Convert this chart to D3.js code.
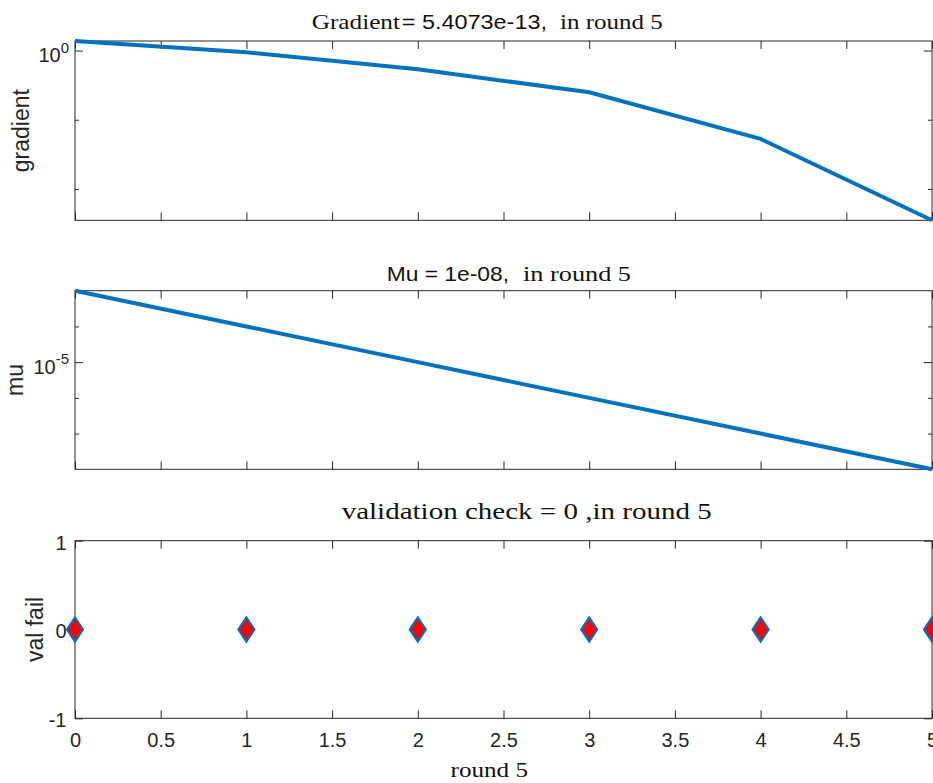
<!DOCTYPE html>
<html>
<head>
<meta charset="utf-8">
<script src="https://cdn.jsdelivr.net/npm/d3@7"></script>
<style>
  html, body { margin: 0; padding: 0; background: #fff; }
  svg { display: block; }
</style>
</head>
<body>
<svg id="chart" width="933" height="783"></svg>
<script>
// Training record: one entry per round
const rounds   = [0, 1, 2, 3, 4, 5];
const gradient = [4.9, 0.75, 0.044, 9.7e-4, 4.1e-7, 5.4073e-13];
const mu       = [1e-3, 1e-4, 1e-5, 1e-6, 1e-7, 1e-8];
const valFail  = [0, 0, 0, 0, 0, 0];

// Tick values and labels
const xTicks        = [0, 0.5, 1, 1.5, 2, 2.5, 3, 3.5, 4, 4.5, 5];
const xTickLabels   = ["0", "0.5", "1", "1.5", "2", "2.5", "3", "3.5", "4", "4.5", "5"];
const gradMajor     = [1];
const gradMinor     = [1e-5, 1e-10];
const gradLabels    = [{ base: "10", exp: "0" }];
const muMajor       = [1e-5];
const muMinor       = [1e-4, 1e-6, 1e-7];
const muLabels      = [{ base: "10", exp: "-5" }];
const valTicks      = [-1, 0, 1];
const valTickLabels = ["-1", "0", "1"];

const lastRound = rounds[rounds.length - 1];

const svg = d3.select("#chart");
const axisColor = "#262626";
const lineColor = "#0072BD";
const sans  = "'Liberation Sans', Arial, Helvetica, sans-serif";
const serif = "'Liberation Serif', 'Times New Roman', serif";

const left = 75, right = 932;
const panels = {
  grad: { top: 41,    bottom: 220.3 },
  mu:   { top: 290.7, bottom: 469.3 },
  val:  { top: 540.7, bottom: 718.3 }
};

const x = d3.scaleLinear().domain([0, 5]).range([left, right]);
const yGrad = d3.scaleLog().domain([d3.min(gradient), d3.max(gradient)])
  .range([panels.grad.bottom, panels.grad.top]);
const yMu = d3.scaleLog().domain([d3.min(mu), d3.max(mu)])
  .range([panels.mu.bottom, panels.mu.top]);
const yVal = d3.scaleLinear().domain([-1, 1])
  .range([panels.val.bottom, panels.val.top]);

// Inward tick marks drawn with d3 axis generators
function tickMarks(gen, values, size, tx, ty) {
  const g = svg.append("g").attr("transform", `translate(${tx},${ty})`);
  g.call(gen.tickValues(values).tickSize(-size).tickSizeOuter(0).tickFormat(""));
  g.select(".domain").remove();
  g.selectAll("line").attr("stroke", axisColor).attr("stroke-width", 1);
  g.selectAll("text").remove();
  return g;
}

function frame(p, y, major, minor) {
  tickMarks(d3.axisBottom(x), xTicks, 8, 0, p.bottom);
  tickMarks(d3.axisTop(x), xTicks, 8, 0, p.top);
  tickMarks(d3.axisLeft(y), major, 8, left, 0);
  tickMarks(d3.axisRight(y), major, 8, right, 0);
  if (minor.length) {
    tickMarks(d3.axisLeft(y), minor, 4, left, 0);
    tickMarks(d3.axisRight(y), minor, 4, right, 0);
  }
  svg.append("rect")
    .attr("x", left).attr("y", p.top)
    .attr("width", right - left).attr("height", p.bottom - p.top)
    .attr("fill", "none").attr("stroke", axisColor).attr("stroke-width", 1);
}

function powerLabels(y, values, labels) {
  values.forEach((v, i) => {
    const t = svg.append("text")
      .attr("x", 69).attr("y", y(v) + 11.5)
      .attr("text-anchor", "end")
      .attr("font-family", sans).attr("font-size", 20)
      .attr("fill", axisColor);
    t.append("tspan").text(labels[i].base);
    t.append("tspan").attr("font-size", 15).attr("dy", -9.5).text(labels[i].exp);
  });
}

function yLabel(text, xPos, p) {
  svg.append("text")
    .attr("transform", `translate(${xPos},${(p.top + p.bottom) / 2}) rotate(-90)`)
    .attr("text-anchor", "middle")
    .attr("font-family", sans).attr("font-size", 23)
    .attr("fill", axisColor)
    .text(text);
}

function titlePart(text, x0, x1, baseline, family, size) {
  svg.append("text")
    .attr("x", x0).attr("y", baseline)
    .attr("font-family", family).attr("font-size", size)
    .attr("fill", "#111")
    .attr("textLength", x1 - x0).attr("lengthAdjust", "spacingAndGlyphs")
    .text(text);
}

// ---- Gradient panel ----
frame(panels.grad, yGrad, gradMajor, gradMinor);
powerLabels(yGrad, gradMajor, gradLabels);
yLabel("gradient", 28.5, panels.grad);
svg.append("path")
  .datum(rounds.map((r, i) => [r, gradient[i]]))
  .attr("fill", "none").attr("stroke", lineColor).attr("stroke-width", 4)
  .attr("stroke-linejoin", "round")
  .attr("d", d3.line().x(d => x(d[0])).y(d => yGrad(d[1])));
titlePart("Gradient", 311.7, 400, 29.3, serif, 22);
titlePart(`= ${gradient[gradient.length - 1]},`, 401.7, 547, 29.3, sans, 20);
titlePart(`in round ${lastRound}`, 560, 662.7, 29.3, serif, 22);

// ---- Mu panel ----
frame(panels.mu, yMu, muMajor, muMinor);
powerLabels(yMu, muMajor, muLabels);
yLabel("mu", 23.3, panels.mu);
svg.append("path")
  .datum(rounds.map((r, i) => [r, mu[i]]))
  .attr("fill", "none").attr("stroke", lineColor).attr("stroke-width", 4)
  .attr("stroke-linejoin", "round")
  .attr("d", d3.line().x(d => x(d[0])).y(d => yMu(d[1])));
titlePart(`Mu = ${d3.format(".0e")(mu[mu.length - 1]).replace("e-", "e-0")},`, 386.7, 509, 281, sans, 21);
titlePart(`in round ${lastRound}`, 523, 631, 281, serif, 22);

// ---- Validation panel ----
frame(panels.val, yVal, valTicks, []);
const gx = svg.append("g").attr("transform", `translate(0,${panels.val.bottom})`)
  .call(d3.axisBottom(x).tickValues(xTicks).tickSize(0)
    .tickFormat((d, i) => xTickLabels[i]).tickPadding(14.4));
gx.select(".domain").remove();
gx.selectAll("text").attr("font-family", sans).attr("font-size", 20).attr("fill", axisColor);

const gy = svg.append("g").attr("transform", `translate(${left},0)`)
  .call(d3.axisLeft(yVal).tickValues(valTicks).tickSize(0)
    .tickFormat((d, i) => valTickLabels[i]).tickPadding(8.5));
gy.select(".domain").remove();
gy.selectAll("text").attr("font-family", sans).attr("font-size", 20)
  .attr("fill", axisColor).attr("dy", "0.42em");

yLabel("val fail", 43.3, panels.val);

svg.append("g").selectAll("path")
  .data(rounds.map((r, i) => [r, valFail[i]]))
  .join("path")
  .attr("transform", d => `translate(${x(d[0])},${yVal(d[1])})`)
  .attr("d", "M0,-12L8,0L0,12L-8,0Z")
  .attr("fill", "#FF0000")
  .attr("stroke", lineColor).attr("stroke-width", 2.2)
  .attr("stroke-linejoin", "miter");

titlePart(`validation check = ${valFail[valFail.length - 1]} ,in round ${lastRound}`, 341.7, 711.7, 519, serif, 24);
titlePart(`round ${lastRound}`, 450.6, 528, 776.7, serif, 22);
</script>
</body>
</html>
